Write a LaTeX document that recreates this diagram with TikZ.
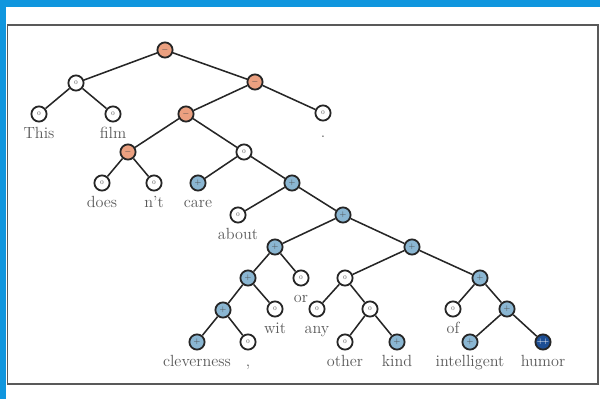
\documentclass[tikz,border=0pt]{standalone}
\usepackage{fontspec}
\usetikzlibrary{positioning}
\definecolor{framebl}{RGB}{16,150,222}
\definecolor{negfill}{RGB}{235,160,128}
\definecolor{posfill}{RGB}{138,182,210}
\definecolor{vposfill}{RGB}{28,78,148}
\tikzset{tnode/.style={circle, draw=black!85, line width=1.3pt, minimum size=0.38cm,
                       inner sep=0pt, font=\fontsize{4}{4}\selectfont, text=black!70},
        neutral/.style={tnode, fill=white},
        negative/.style={tnode, fill=negfill},
        positive/.style={tnode, fill=posfill},
        vpositive/.style={tnode, fill=vposfill, text=white},
        wordlabel/.style={font=\fontsize{11.5}{13}\selectfont, text=black!65,
                          text height=1.6ex, text depth=.25ex, inner sep=2pt},
        word/.style={label={[wordlabel, label distance=2.5pt]below:#1}},
        branch/.style={draw=black!85, line width=1.1pt},
        }

\begin{document}
\begin{tikzpicture}[x=0.025cm, y=-0.025cm]
    \useasboundingbox (0,0) rectangle (600,399);
    \fill[framebl] (0,0) rectangle (600,7);
    \fill[framebl] (0,0) rectangle (6,399);
    \draw[black!65, line width=1.1pt] (7.5,25) rectangle (598,384);

    \node[negative] (root) at (165,50) {$-$};
    \node[neutral] (np) at (76,83) {0};
    \node[negative] (vp) at (255,82) {$-$};
    \node[neutral, word=This] (this) at (39,114) {0};
    \node[neutral, word=film] (film) at (113,114) {0};
    \node[negative] (vbar) at (186,114) {$-$};
    \node[neutral, word=.] (stop) at (323,113) {0};
    \node[negative] (doesnt) at (128,152) {$-$};
    \node[neutral] (carep) at (244,152) {0};
    \node[neutral, word=does] (does) at (102,183) {0};
    \node[neutral, word=n't] (nt) at (154,183) {0};
    \node[positive, word=care] (care) at (198,183) {$+$};
    \node[positive] (pp) at (292,183) {$+$};
    \node[neutral, word=about] (about) at (238,215) {0};
    \node[positive] (obj) at (343,215) {$+$};
    \node[positive] (cwo) at (275,247) {$+$};
    \node[positive] (rest) at (412,247) {$+$};
    \node[positive] (cw) at (248,278) {$+$};
    \node[neutral, word=or] (or) at (301,278) {0};
    \node[positive] (cc) at (223,310) {$+$};
    \node[neutral, word=wit] (wit) at (275,309) {0};
    \node[positive, word=cleverness] (clev) at (197,342) {$+$};
    \node[neutral, word={{,}}] (comma) at (248,342) {0};
    \node[neutral] (anyk) at (345,278) {0};
    \node[positive] (ofp) at (480,278) {$+$};
    \node[neutral, word=any] (any) at (317,309) {0};
    \node[neutral] (otherk) at (370,309) {0};
    \node[neutral, word=other] (other) at (345,342) {0};
    \node[positive, word=kind] (kind) at (397,342) {$+$};
    \node[neutral, word=of] (of) at (453,309) {0};
    \node[positive] (ih) at (507,309) {$+$};
    \node[positive, word=intelligent] (intel) at (470,342) {$+$};
    \node[vpositive, word=humor] (humor) at (543,342) {$+\!+$};

    \foreach \p/\c in {root/np, root/vp, np/this, np/film, vp/vbar, vp/stop,
                       vbar/doesnt, vbar/carep, doesnt/does, doesnt/nt,
                       carep/care, carep/pp, pp/about, pp/obj, obj/cwo, obj/rest,
                       cwo/cw, cwo/or, cw/cc, cw/wit, cc/clev, cc/comma,
                       rest/anyk, rest/ofp, anyk/any, anyk/otherk,
                       otherk/other, otherk/kind, ofp/of, ofp/ih, ih/intel, ih/humor}
        \draw[branch] (\p) -- (\c);
\end{tikzpicture}
\end{document}
